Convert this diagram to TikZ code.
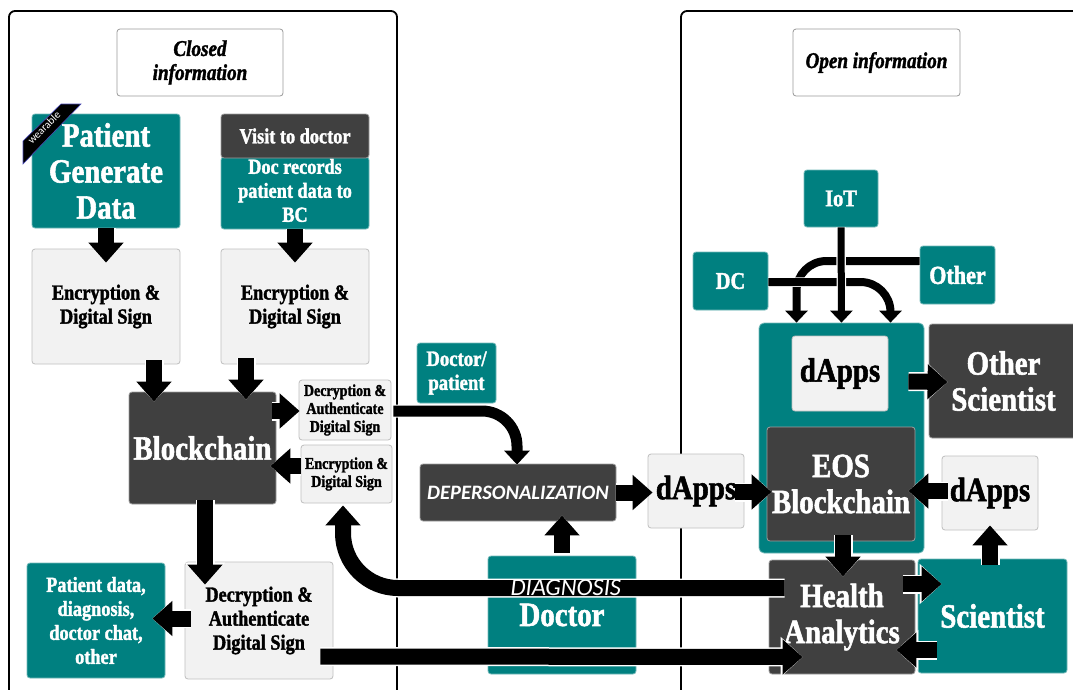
\documentclass[tikz,border=0pt]{standalone}
\usepackage{fontspec}
\setmainfont{Liberation Serif}[FakeStretch=0.85, BoldFeatures={FakeBold=1.6}, BoldItalicFeatures={FakeBold=1.6}]
\newfontfamily\calibfont{Carlito}
\usetikzlibrary{arrows.meta,calc}
\definecolor{tealc}{RGB}{0,128,128}
\definecolor{darkc}{RGB}{64,64,64}
\definecolor{lightc}{RGB}{242,242,242}
\definecolor{edgec}{RGB}{191,191,191}

\begin{document}
\begin{tikzpicture}[x=1pt,y=-1pt,
  boxbase/.style={rectangle, rounded corners=3pt, inner sep=0pt, align=center, line width=0.8pt},
  tealbox/.style={boxbase, fill=tealc, draw=tealc!55!white, text=white},
  darkbox/.style={boxbase, fill=darkc, draw=gray!75, text=white},
  lightbox/.style={boxbase, fill=lightc, draw=edgec, text=black},
  notebox/.style={boxbase, fill=white, draw=gray!80, text=black},
  sz/.style 2 args={minimum width=#1pt, minimum height=#2pt},
  bigtxt/.style={font=\bfseries\fontsize{34}{36}\selectfont},
  midtxt/.style={font=\bfseries\fontsize{21.5}{24}\selectfont},
  smalltxt/.style={font=\bfseries\fontsize{16.5}{18}\selectfont},
  headtxt/.style={font=\bfseries\itshape\fontsize{22.5}{24}\selectfont},
  panel/.style={draw=black, line width=1.8pt, rounded corners=6pt},
  blockarrow/.style={draw=black, line width=16pt, -{Triangle[length=20pt,width=34pt]},
    preaction={draw=white, line width=19pt, -{Triangle[length=22pt,width=39pt]}}},
  midarrow/.style={draw=black, line width=11pt, -{Triangle[length=14pt,width=25pt]},
    preaction={draw=white, line width=13pt, -{Triangle[length=15pt,width=29pt]}}},
  thinarrow/.style={draw=black, line width=8pt, -{Triangle[length=12pt,width=22pt]},
    preaction={draw=white, line width=9.5pt, -{Triangle[length=13pt,width=25pt]}}},
]
\useasboundingbox (0,0) rectangle (1073,689);
\fill[white] (0,0) rectangle (1073,689);

% the two information areas
\draw[panel] (9,700) |- (397,11) -- (397,700);
\draw[panel] (681,700) |- (1090,11);

% closed side
\node[notebox, sz={166}{67}, headtxt] (closed) at (200,62.5) {Closed\\information};
\node[tealbox, sz={148}{114}, bigtxt] (pgd) at (106,171) {Patient\\Generate\\Data};
\filldraw[fill=black, draw=blue!60!black!70, line width=0.6pt]
  (23,141) -- (61,104) -- (81,104) -- (23,164) -- cycle;
\node[text=white, rotate=45, font=\calibfont\fontsize{11}{12}\selectfont, inner sep=0pt] (wear) at (44,127.5) {wearable};
\node[tealbox, sz={148}{70}, midtxt] (docrec) at (295,193) {\raisebox{3pt}{\begin{tabular}{@{}c@{}}Doc records\\patient data to\\BC\end{tabular}}};
\node[darkbox, sz={148}{44}, midtxt] (visit) at (295,136) {Visit to doctor};
\node[lightbox, sz={148}{115}, midtxt] (enc1) at (106,306.5) {Encryption \&\\Digital Sign};
\node[lightbox, sz={148}{115}, midtxt] (enc2) at (295,306.5) {Encryption \&\\Digital Sign};
\node[darkbox, sz={147}{112}, bigtxt] (bc) at (202.5,448) {Blockchain};
\node[lightbox, sz={92}{60}, smalltxt] (dec1) at (345,410) {Decryption \&\\Authenticate\\Digital Sign};
\node[lightbox, sz={91}{58}, smalltxt] (enc3) at (346.5,474) {Encryption \&\\Digital Sign};
\node[lightbox, sz={148}{117}, midtxt] (dec2) at (259,620.5) {Decryption \&\\Authenticate\\Digital Sign};
\node[tealbox, sz={138}{115}, midtxt] (pdata) at (96,620.5) {Patient data,\\diagnosis,\\doctor chat,\\other};

% middle
\node[tealbox, sz={79}{60}, font=\bfseries\fontsize{22}{24}\selectfont] (docpat) at (456.5,373) {Doctor/\\patient};
\node[darkbox, sz={196}{57}, font=\calibfont\bfseries\itshape\fontsize{20.5}{22}\selectfont] (depers) at (518,492.5) {DEPERSONALIZATION};
\node[lightbox, sz={96}{74}, bigtxt] (dapps1) at (696,491) {dApps};
\node[tealbox, sz={148}{118}, bigtxt] (doctor) at (562,615) {Doctor};

% open side
\node[notebox, sz={167}{67}, headtxt] (open) at (876.5,62.5) {Open information};
\node[tealbox, sz={74}{57}, font=\bfseries\fontsize{24}{26}\selectfont] (iot) at (841,198.5) {IoT};
\node[tealbox, sz={75}{58}, font=\bfseries\fontsize{24}{26}\selectfont] (dc) at (730.5,281) {DC};
\node[tealbox, sz={75}{58}, font=\bfseries\fontsize{26}{28}\selectfont] (other) at (957.5,275) {Other};
\node[tealbox, sz={165}{230}, rounded corners=5pt] (cont) at (841.5,438) {};
\node[lightbox, sz={96}{75}, bigtxt] (dapps2) at (840,373.5) {dApps};
\node[darkbox, sz={148}{114}, bigtxt] (eos) at (841,484) {EOS\\Blockchain};
\node[darkbox, sz={149}{114}, bigtxt] (osci) at (1003.5,381) {Other\\Scientist};
\node[lightbox, sz={96}{74}, bigtxt] (dapps3) at (990,493) {dApps};
\node[darkbox, sz={146}{114}, bigtxt] (ha) at (842,617) {Health\\Analytics};
\node[tealbox, sz={149}{114}, bigtxt] (sci) at (992.5,616) {Scientist};

% flows on the closed side
\draw[blockarrow] (pgd.south) -- ($(enc1.north)+(0,14)$);
\draw[blockarrow] (docrec.south) -- ($(enc2.north)+(0,14)$);
\draw[blockarrow] ($(enc1.south)+(48,-4)$) -- ($(bc.north)+(-48.5,10)$);
\draw[blockarrow] ($(enc2.south)+(-49,-6)$) -- ($(bc.north)+(43.5,8)$);
\draw[blockarrow] ($(bc.east)+(-4,-37)$) -- ($(dec1.west)+(1,1)$);
\draw[blockarrow] ($(enc3.west)+(0,-8)$) -- ($(bc.east)+(-6,18)$);
\draw[blockarrow] ($(bc.south)+(2.5,-4)$) -- ($(dec2.north)+(-54,23)$);
\draw[blockarrow] ($(dec2.west)+(6,-2)$) -- ($(pdata.east)+(-13,-2)$);

% flows across the two areas
\draw[midarrow, rounded corners=35pt] ($(dec1.east)+(2,1)$) -| ($(depers.north)+(-1,1)$);
\draw[blockarrow] (depers.east) -- ($(dapps1.west)+(5,1.5)$);
\draw[blockarrow] ($(dapps1.east)+(-9,1)$) -- ($(eos.west)+(5,8)$);
\draw[blockarrow] ($(doctor.north)+(0,-3)$) -- ($(depers.south)+(44,-6)$);
\draw[blockarrow] ($(dec2.east)+(-13,36)$) -- ($(ha.west)+(34,40)$);
\draw[blockarrow, rounded corners=55pt] ($(ha.west)+(16,-29)$) -| ($(enc3.south)+(-3.5,2)$)
  node[pos=0.25, text=white, font=\calibfont\itshape\fontsize{24.5}{25}\selectfont, inner sep=0pt, xshift=2pt] (diag) {DIAGNOSIS};

% flows on the open side
\draw[blockarrow] ($(eos.south)+(2,-6)$) -- ($(ha.north)+(1,17)$);
\draw[blockarrow] ($(dapps3.west)+(6,-2)$) -- ($(eos.east)+(-7,7)$);
\draw[blockarrow] ($(ha.east)+(-12,-33)$) -- ($(sci.west)+(24,-32)$);
\draw[blockarrow] ($(sci.west)+(19,34)$) -- ($(ha.east)+(-19,33)$);
\draw[blockarrow] ($(sci.north)+(-2.5,6)$) -- ($(dapps3.south)+(0,-5)$);
\draw[blockarrow] ($(dapps2.east)+(20,8)$) -- ($(osci.west)+(19,1)$);
\draw[thinarrow, rounded corners=30pt] ($(other.west)+(0,-14)$) -| ($(cont.north)+(-45,0)$);
\draw[thinarrow, rounded corners=30pt] ($(dc.east)+(0,1)$) -| ($(cont.north)+(49,0)$);
\draw[thinarrow, line width=7pt] (iot.south) -- (cont.north);
\end{tikzpicture}
\end{document}
